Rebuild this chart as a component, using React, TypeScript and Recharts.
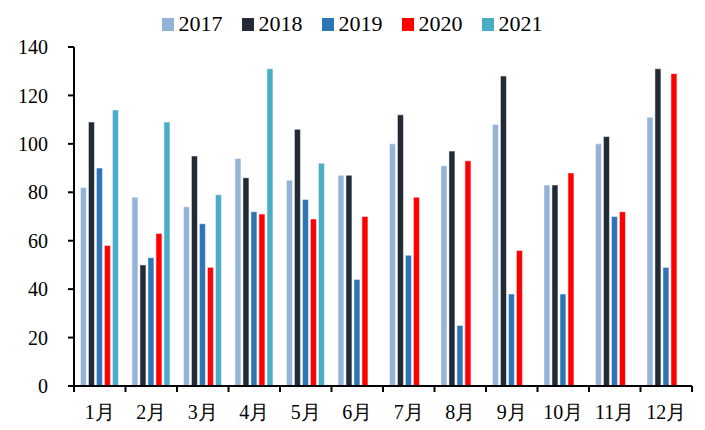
import React from 'react';
import { BarChart, Bar, XAxis, YAxis, Legend } from 'recharts';

const months = ['1月', '2月', '3月', '4月', '5月', '6月', '7月', '8月', '9月', '10月', '11月', '12月'];
const y2017 = [82, 78, 74, 94, 85, 87, 100, 91, 108, 83, 100, 111];
const y2018 = [109, 50, 95, 86, 106, 87, 112, 97, 128, 83, 103, 131];
const y2019 = [90, 53, 67, 72, 77, 44, 54, 25, 38, 38, 70, 49];
const y2020 = [58, 63, 49, 71, 69, 70, 78, 93, 56, 88, 72, 129];
const y2021 = [114, 109, 79, 131, 92, null, null, null, null, null, null, null];
const yTicks = [0, 20, 40, 60, 80, 100, 120, 140];

const series = [
  { key: '2017', values: y2017, color: '#95B3D7' },
  { key: '2018', values: y2018, color: '#222A35' },
  { key: '2019', values: y2019, color: '#2E75B6' },
  { key: '2020', values: y2020, color: '#FF0000' },
  { key: '2021', values: y2021, color: '#4BACC6' },
];

const data = months.map((m, i) => {
  const row: any = { month: m };
  series.forEach(s => { row[s.key] = s.values[i]; });
  return row;
});

const W = 705;
const H = 430;
const LEFT = 74;
const RIGHT = 13;
const BAND = (W - LEFT - RIGHT) / months.length;
const FONT = '"Liberation Serif", "DejaVu Serif", serif';

const MonthTick = (props: any) => {
  const { x, y, payload, index } = props;
  return (
    <g>
      <line x1={x - BAND / 2} y1={y} x2={x - BAND / 2} y2={y + 6} stroke="#000" strokeWidth={2} />
      {index === months.length - 1 && (
        <line x1={x + BAND / 2} y1={y} x2={x + BAND / 2} y2={y + 6} stroke="#000" strokeWidth={2} />
      )}
      <text x={x} y={y + 33} textAnchor="middle" fontSize={20} fontFamily={FONT} fill="#000">
        {payload.value}
      </text>
    </g>
  );
};

const LegendBox = () => (
  <div style={{ display: 'flex', justifyContent: 'center', fontFamily: FONT, fontSize: 22, color: '#000', lineHeight: '24px', height: 24 }}>
    {series.map((s, i) => (
      <div key={s.key} style={{ display: 'flex', alignItems: 'center', marginLeft: i === 0 ? 0 : 19 }}>
        <span style={{ display: 'inline-block', width: 12, height: 13, background: s.color, marginRight: 5 }} />
        <span>{s.key}</span>
      </div>
    ))}
  </div>
);

export default function App() {
  return (
    <div style={{ position: 'absolute', left: 0, top: 0, width: W, height: H, background: '#fff' }}>
      <BarChart
        width={W}
        height={H}
        data={data}
        margin={{ top: 23, right: RIGHT, bottom: 0, left: 0 }}
        barCategoryGap="12.5%"
        barGap={2}
      >
        <Legend
          verticalAlign="top"
          align="center"
          content={<LegendBox />}
          wrapperStyle={{ top: 12, left: 6 }}
        />
        <XAxis
          dataKey="month"
          axisLine={{ stroke: '#000', strokeWidth: 2 }}
          tickLine={false}
          tickSize={0}
          tickMargin={0}
          interval={0}
          height={44}
          tick={<MonthTick />}
        />
        <YAxis
          width={LEFT}
          domain={[0, 140]}
          ticks={yTicks}
          interval={0}
          axisLine={{ stroke: '#000', strokeWidth: 2 }}
          tickLine={{ stroke: '#000', strokeWidth: 2 }}
          tickSize={6}
          tickMargin={20}
          tick={{ fill: '#000', fontSize: 20, fontFamily: FONT }}
        />
        {series.map(s => (
          <Bar
            key={s.key}
            dataKey={s.key}
            name={s.key}
            fill={s.color}
            stroke="#fff"
            strokeWidth={0.5}
            isAnimationActive={false}
          />
        ))}
      </BarChart>
    </div>
  );
}
